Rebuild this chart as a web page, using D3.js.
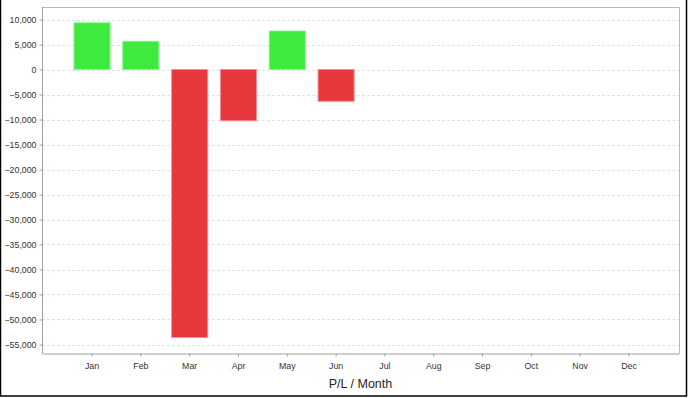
<!DOCTYPE html>
<html>
<head>
<meta charset="utf-8">
<script src="https://cdn.jsdelivr.net/npm/d3@7"></script>
<style>
    body { margin: 0; background: #fff; }
    svg { display: block; font-family: "Liberation Sans", Arial, sans-serif; }
</style>
</head>
<body>
<svg id="chart" width="688" height="398"></svg>
<script>
// data
var months = ['Jan', 'Feb', 'Mar', 'Apr', 'May', 'Jun', 'Jul', 'Aug', 'Sep', 'Oct', 'Nov', 'Dec'];
var profit = [9350, 5650, -53600, -10250, 7700, -6350, null, null, null, null, null, null];
var yTicks = [10000, 5000, 0, -5000, -10000, -15000, -20000, -25000, -30000, -35000, -40000,
    -45000, -50000, -55000];
var axisTitle = 'P/L / Month';

var svg = d3.select('#chart');
var plotLeft = 42, plotTop = 7, plotRight = 679, plotBottom = 353;

// outer frame
svg.append('path')
    .attr('d', 'M0.5,0 V396 H686.5 V0')
    .attr('fill', 'none')
    .attr('stroke', '#000')
    .attr('stroke-width', 1.5);

var x = d3.scaleBand()
    .domain(months)
    .range([plotLeft, plotRight])
    .paddingInner(0.24)
    .paddingOuter(0.645);

var y = d3.scaleLinear()
    .domain([-56700, 12500])
    .range([plotBottom, plotTop]);

// grid
svg.append('g')
    .selectAll('line')
    .data(yTicks)
    .enter()
    .append('line')
    .attr('x1', plotLeft)
    .attr('x2', plotRight)
    .attr('y1', function(d) { return Math.round(y(d)) + 0.5; })
    .attr('y2', function(d) { return Math.round(y(d)) + 0.5; })
    .attr('stroke', '#e2e2e2')
    .attr('stroke-dasharray', '3,2');

// plot frame (top and right)
svg.append('path')
    .attr('d', 'M' + (plotLeft + 0.5) + ',' + (plotTop + 0.5) + ' H' + (plotRight + 0.5) + ' V' + (plotBottom + 0.5))
    .attr('fill', 'none')
    .attr('stroke', '#b8b8b8');

// bars
svg.selectAll('.bar')
    .data(months.map(function(m, i) { return [m, profit[i]]; }).filter(function(d) { return d[1] !== null; }))
    .enter()
    .append('rect')
    .attr('class', 'bar')
    .attr('x', function(d) { return x(d[0]) + 0.5; })
    .attr('width', x.bandwidth() - 1)
    .attr('y', function(d) { return y(Math.max(0, d[1])); })
    .attr('height', function(d) { return Math.abs(y(d[1]) - y(0)); })
    .attr('fill', function(d) { return d[1] >= 0 ? '#3eea3e' : '#e8383d'; })
    .attr('stroke', function(d) { return d[1] >= 0 ? '#8ef28e' : '#f29094'; })
    .attr('stroke-width', 1);

// axes
var yAxis = svg.append('g')
    .attr('transform', 'translate(' + (plotLeft + 0.5) + ',0)')
    .call(d3.axisLeft(y)
        .tickValues(yTicks)
        .tickFormat(d3.format(','))
        .tickSizeInner(3)
        .tickSizeOuter(0)
        .tickPadding(3));

var xAxis = svg.append('g')
    .attr('transform', 'translate(0,' + (plotBottom + 0.5) + ')')
    .call(d3.axisBottom(x)
        .tickSizeInner(3)
        .tickSizeOuter(0)
        .tickPadding(6));

[yAxis, xAxis].forEach(function(g) {
    g.attr('font-size', 8.8)
        .attr('font-family', '"Liberation Sans", Arial, sans-serif');
    g.select('.domain').attr('stroke', '#a0a0a0');
    g.selectAll('.tick line').attr('stroke', '#a0a0a0');
    g.selectAll('.tick text').attr('fill', '#333');
});
yAxis.select('.domain').attr('d', 'M0,' + plotTop + 'V' + (plotBottom + 0.5));

svg.append('text')
    .attr('x', (plotLeft + plotRight) / 2)
    .attr('y', 388)
    .attr('text-anchor', 'middle')
    .attr('font-size', 12.5)
    .attr('fill', '#222')
    .text(axisTitle);
</script>
</body>
</html>
